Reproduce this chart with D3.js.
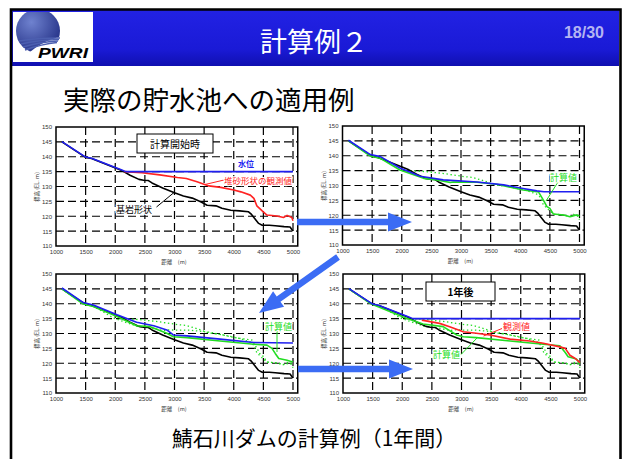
<!DOCTYPE html>
<html>
<head>
<meta charset="utf-8">
<script src="https://cdn.jsdelivr.net/npm/d3@7"></script>
<style>
  body { margin: 0; background: #fff; }
  svg { display: block; }
</style>
</head>
<body>
<svg id="slide" width="625" height="459"></svg>
<script>
// axis ticks
const xTicks = [1000, 1500, 2000, 2500, 3000, 3500, 4000, 4500, 5000];
const yTicks = [110, 115, 120, 125, 130, 135, 140, 145, 150];

// 基岩形状 (bedrock) - same in every panel
const bedX = [1100,1500,1600,2100,2250,2400,2480,2560,2620,2800,3000,3150,3300,3450,3550,3700,3800,3950,4100,4250,4300,4350,4420,4480,4600,4700,4850,4950,5000];
const bedY = [145,139.8,139.4,135.5,133.8,132.4,132.1,132.0,131.2,129.5,127.9,126.8,126.1,124.8,123.7,123.5,122.7,122.0,121.8,121.5,120.6,119.3,117.6,117.0,117.0,116.8,116.5,116.4,115.0];

// 水位 at start / after one year
const wlInitX = [1100,1500,1600,2100,2180,5000];
const wlInitY = [145.1,139.9,139.5,135.6,135,135];

// 堆砂形状の観測値 at start
const obs0X = [2150,2450,2750,3050,3200,3380,3580,3780,4000,4120,4280,4340,4390,4480,4560,4730,4840,4900,4980,5000];
const obs0Y = [135,134.6,133.9,133.0,132.7,131.6,130.2,129.7,128.8,128.2,127.1,126.0,123.5,121.8,120.4,120.1,119.6,120.3,119.6,118.5];

// panel 2 : water level and computed bed
const wl1X = [1100,1470,1640,1970,2310,2700,3270,3720,4050,4280,4400,5000];
const wl1Y = [145.2,140.4,139.7,135.9,133.1,131.9,131.2,130.2,129.0,128.2,127.9,127.9];
const calc1X = [1100,1470,1640,1970,2370,2590,2820,2870,3270,3600,4050,4310,4390,4450,4500,4560,4730,4840,4950,5000];
const calc1Y = [145,139.9,139.1,135.2,132.4,131.9,131.0,131.2,131.1,130.4,128.5,127.8,125.1,122.9,122.3,120.4,120.1,119.5,120.1,119.8];

// panel 3
const wl2X = [1100,1460,1630,2030,2360,2650,2870,2980,3210,3770,4340,5000];
const wl2Y = [145.3,140.4,139.6,136.3,133.8,132.6,131.2,129.5,129.2,128.1,127.0,126.8];
const calc2X = [1100,1460,1630,2030,2360,2590,2870,2980,3210,3770,4340,4560,4645,4700,4760,4900,4980,5000];
const calc2Y = [145,139.9,139.1,135.7,132.6,132.3,130.1,128.9,128.6,127.5,126.4,126.1,125.0,123.3,121.6,121.0,120.5,120.6];

// panel 4 : 1年後
const obs1X = [2330,2630,2800,3030,3250,3480,3820,4150,4380,4660,4750,4830,4920,5000];
const obs1Y = [134.5,133.4,132.3,130.6,130.1,129.5,128.1,127.5,126.7,125.5,125.0,122.7,121.6,120.2];
const calc3X = [1100,1480,2070,2350,2690,2920,3030,3250,3820,4380,4660,4750,4800,4940,5000];
const calc3Y = [145,139.9,135.1,133.2,132.3,129.5,128.9,128.6,127.5,126.4,125.9,123.6,122.2,121.4,119.9];

const BLUE = "#1f1ff0", RED = "#ff2222", GREEN = "#22dd22", ARROW = "#3b6cf4";
const JP = "'Noto Sans CJK JP', sans-serif";

const svg = d3.select("#slide");

// ---------- slide frame + header ----------
const defs = svg.append("defs");
const grad = defs.append("linearGradient").attr("id", "hdr").attr("x1", 0).attr("y1", 0).attr("x2", 0).attr("y2", 1);
grad.append("stop").attr("offset", "0%").attr("stop-color", "#2222e4");
grad.append("stop").attr("offset", "70%").attr("stop-color", "#1a1ad6");
grad.append("stop").attr("offset", "100%").attr("stop-color", "#1010b0");

svg.append("rect").attr("x", 12).attr("y", 10).attr("width", 607).attr("height", 56).attr("fill", "url(#hdr)");
svg.append("path")
  .attr("d", "M11,470 V9.5 H620.5 V470")
  .attr("fill", "none").attr("stroke", "#000").attr("stroke-width", 2.6);

// logo
const logo = svg.append("g");
logo.append("rect").attr("x", 13).attr("y", 12).attr("width", 80).attr("height", 50).attr("fill", "#fff");
const lg = defs.append("radialGradient").attr("id", "ball").attr("cx", "35%").attr("cy", "30%").attr("r", "75%");
lg.append("stop").attr("offset", "0%").attr("stop-color", "#6f82cf");
lg.append("stop").attr("offset", "100%").attr("stop-color", "#243187");
defs.append("clipPath").attr("id", "ballclip")
  .append("path").attr("d", "M14,12 H66 V36 Q46,38 30,52 L14,52 Z");
logo.append("circle").attr("cx", 38).attr("cy", 31).attr("r", 22)
  .attr("fill", "url(#ball)").attr("clip-path", "url(#ballclip)");
[0, 1, 2, 3].forEach(i => {
  logo.append("path")
    .attr("d", `M${19 + i * 2},${41 + i * 3} Q${36 + i * 2},${38 + i * 2} ${60 - i},${38 + i * 1.5}`)
    .attr("fill", "none").attr("stroke", "#4c5fb0").attr("stroke-width", 1.4);
});
logo.append("text").attr("x", 38).attr("y", 57.5)
  .attr("font-family", "'Liberation Sans', Arial, sans-serif")
  .attr("font-size", 15).attr("font-weight", 900).attr("font-style", "italic")
  .attr("textLength", 50).attr("lengthAdjust", "spacingAndGlyphs")
  .attr("fill", "#000").text("PWRI");

svg.append("text").attr("x", 314).attr("y", 52).attr("text-anchor", "middle")
  .attr("font-family", JP).attr("font-size", 27).attr("fill", "#fff").text("計算例２");
svg.append("text").attr("x", 584).attr("y", 38).attr("text-anchor", "middle")
  .attr("font-family", "'Liberation Sans', Arial, sans-serif").attr("font-weight", "bold")
  .attr("font-size", 16).attr("fill", "#b4b4f2").text("18/30");

svg.append("text").attr("x", 63).attr("y", 110)
  .attr("font-family", JP).attr("font-size", 26.5).attr("fill", "#000").text("実際の貯水池への適用例");
svg.append("text").attr("x", 314).attr("y", 446).attr("text-anchor", "middle")
  .attr("font-family", JP).attr("font-size", 21).attr("fill", "#000").text("鯖石川ダムの計算例（1年間）");

// ---------- one chart panel ----------
function drawPanel(x0, y0, series, notes) {
  const x = d3.scaleLinear().domain([1000, 5000]).range([x0, x0 + 237]);
  const y = d3.scaleLinear().domain([110, 150]).range([y0 + 119, y0]);
  const xr = x(5080);
  const g = svg.append("g");

  g.append("rect").attr("x", x(1000)).attr("y", y(150))
    .attr("width", xr - x(1000)).attr("height", y(110) - y(150)).attr("fill", "#fff");

  // dashed grid
  g.selectAll(".vg").data(xTicks.slice(1)).join("line")
    .attr("x1", d => x(d)).attr("x2", d => x(d)).attr("y1", y(150)).attr("y2", y(110))
    .attr("stroke", "#000").attr("stroke-width", 1.2).attr("stroke-dasharray", "8,4");
  g.selectAll(".hg").data(yTicks.slice(1, -1)).join("line")
    .attr("x1", x(1000)).attr("x2", xr).attr("y1", d => y(d)).attr("y2", d => y(d))
    .attr("stroke", "#000").attr("stroke-width", 1.2).attr("stroke-dasharray", "8,4");

  const line = d3.line().x(d => x(d[0])).y(d => y(d[1]));
  series.forEach(s => {
    g.append("path").datum(d3.zip(s.x, s.y)).attr("d", line)
      .attr("fill", "none").attr("stroke", s.color)
      .attr("stroke-width", s.dotted ? 1.3 : 1.6)
      .attr("stroke-dasharray", s.dotted ? "1.4,2.6" : null)
      .attr("stroke-linejoin", "round");
  });

  g.append("rect").attr("x", x(1000)).attr("y", y(150))
    .attr("width", xr - x(1000)).attr("height", y(110) - y(150))
    .attr("fill", "none").attr("stroke", "#000").attr("stroke-width", 1.5);

  const ax = g.append("g").attr("transform", `translate(0,${y(110)})`)
    .call(d3.axisBottom(x).tickValues(xTicks).tickFormat(d3.format("d")).tickSize(0).tickPadding(3.5));
  const ay = g.append("g").attr("transform", `translate(${x(1000)},0)`)
    .call(d3.axisLeft(y).tickValues(yTicks).tickFormat(d3.format("d")).tickSize(0).tickPadding(4));
  [ax, ay].forEach(a => {
    a.select(".domain").remove();
    a.selectAll("text").attr("font-size", 6).attr("fill", "#333")
      .attr("font-family", "'Liberation Sans', Arial, sans-serif");
  });

  g.append("text").attr("x", x0 + 118).attr("y", y0 + 137).attr("text-anchor", "middle")
    .attr("font-family", JP).attr("font-size", 5.5).attr("fill", "#333").text("距離　(m)");
  g.append("text").attr("transform", `translate(${x0 - 17},${y0 + 60}) rotate(-90)`)
    .attr("text-anchor", "middle").attr("font-family", JP).attr("font-size", 5.5)
    .attr("fill", "#333").text("標高 (EL. m)");

  notes.forEach(n => {
    if (n.box) {
      g.append("rect").attr("x", n.box[0]).attr("y", n.box[1]).attr("width", n.box[2]).attr("height", n.box[3])
        .attr("fill", "#fff").attr("stroke", "#000").attr("stroke-width", 1);
    }
    if (n.lead) {
      g.append("line").attr("x1", n.lead[0]).attr("y1", n.lead[1]).attr("x2", n.lead[2]).attr("y2", n.lead[3])
        .attr("stroke", n.color).attr("stroke-width", 1);
    }
    // white halo behind the label so grid lines don't cut through it
    g.append("text").attr("x", n.x).attr("y", n.y).attr("text-anchor", n.anchor || "start")
      .attr("font-family", JP).attr("font-size", n.size).attr("font-weight", n.bold ? "bold" : null)
      .attr("fill", n.color).attr("stroke", "#fff").attr("stroke-width", 2.2)
      .attr("stroke-linejoin", "round").attr("paint-order", "stroke")
      .text(n.text);
  });
}

const bed = { x: bedX, y: bedY, color: "#000" };

drawPanel(56, 127, [
  bed,
  { x: obs0X, y: obs0Y, color: RED },
  { x: wlInitX, y: wlInitY, color: BLUE }
], [
  { text: "計算開始時", x: 175, y: 147.5, size: 10, color: "#000", anchor: "middle", box: [137, 134, 76, 19] },
  { text: "水位", x: 238, y: 167, size: 8, color: BLUE, bold: true },
  { text: "堆砂形状の観測値", x: 224, y: 184, size: 8.5, color: RED, lead: [205, 184.5, 224, 180] },
  { text: "基岩形状", x: 116, y: 213, size: 9, color: "#000", lead: [156.5, 207, 174, 192.5] }
]);

drawPanel(342.5, 126, [
  { x: obs0X, y: obs0Y, color: GREEN, dotted: true },
  bed,
  { x: calc1X, y: calc1Y, color: GREEN },
  { x: wl1X, y: wl1Y, color: BLUE }
], [
  { text: "計算値", x: 550, y: 181, size: 9, color: GREEN, lead: [558, 182, 546, 201] }
]);

drawPanel(56, 274, [
  { x: obs0X, y: obs0Y, color: GREEN, dotted: true },
  { x: calc1X, y: calc1Y, color: GREEN, dotted: true },
  bed,
  { x: calc2X, y: calc2Y, color: GREEN },
  { x: wl2X, y: wl2Y, color: BLUE }
], [
  { text: "計算値", x: 265, y: 330, size: 9, color: GREEN, lead: [277, 331, 277, 352] }
]);

drawPanel(343, 274, [
  { x: obs0X, y: obs0Y, color: GREEN, dotted: true },
  { x: calc1X, y: calc1Y, color: GREEN, dotted: true },
  bed,
  { x: calc3X, y: calc3Y, color: GREEN },
  { x: obs1X, y: obs1Y, color: RED },
  { x: wlInitX, y: wlInitY, color: BLUE }
], [
  { text: "1年後", x: 460.5, y: 296, size: 10, color: "#000", anchor: "middle", bold: true, box: [426, 282, 69, 19] },
  { text: "観測値", x: 503, y: 330, size: 9, color: RED, lead: [502, 328.5, 483.5, 336] },
  { text: "計算値", x: 433, y: 358, size: 9, color: GREEN, lead: [461, 354.5, 477, 338] }
]);

// ---------- arrows ----------
function arrow(x1, y1, x2, y2) {
  const len = Math.hypot(x2 - x1, y2 - y1);
  const ang = Math.atan2(y2 - y1, x2 - x1) * 180 / Math.PI;
  const s = 6.5, hl = 24, hw = 19;
  const pts = [[0, -s / 2], [len - hl, -s / 2], [len - hl, -hw / 2], [len, 0], [len - hl, hw / 2], [len - hl, s / 2], [0, s / 2]];
  svg.append("polygon").attr("points", pts.map(p => p.join(",")).join(" "))
    .attr("transform", `translate(${x1},${y1}) rotate(${ang})`)
    .attr("fill", ARROW);
}
arrow(297, 222, 412, 222);
arrow(338, 257, 259, 313);
arrow(298, 369, 413, 369);
</script>
</body>
</html>
